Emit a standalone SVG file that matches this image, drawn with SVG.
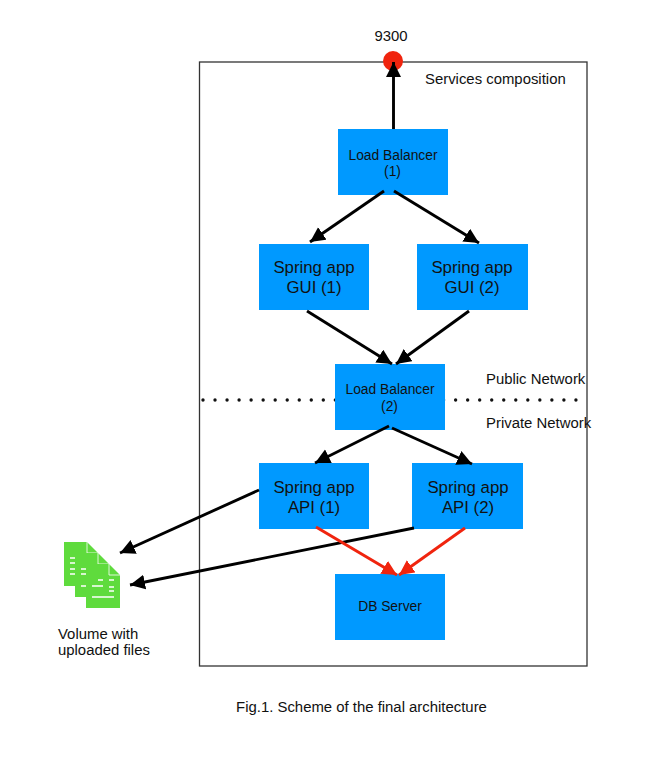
<svg xmlns="http://www.w3.org/2000/svg" width="657" height="772" viewBox="0 0 657 772">
<style>
text{font-family:"Liberation Sans",Arial,sans-serif;fill:#111}
.box{fill:#0099ff}
.t{text-anchor:middle}
.s{font-size:13.800px}
.m{font-size:16.800px}
.l{font-size:14.900px}
.c{fill:none;stroke:#000;stroke-width:2.900}
.r{fill:none;stroke:#f0240e;stroke-width:2.900}
.d{fill:#5fdb3d}
</style>
<defs>
<marker id="ab" markerUnits="userSpaceOnUse" markerWidth="17" markerHeight="16" refX="15" refY="7.500" orient="auto"><path d="M0 0L15 7.500L0 15z" fill="#000"/></marker>
<marker id="ar" markerUnits="userSpaceOnUse" markerWidth="17" markerHeight="16" refX="15" refY="7.500" orient="auto"><path d="M0 0L15 7.500L0 15z" fill="#f0240e"/></marker>
<g id="doc"><path class="d" d="M0 0H23L34 11V44H0z"/><path d="M23 0V11H34" fill="none" stroke="#fff" stroke-width=".8"/></g>
</defs>
<g id="frame"><rect x="199.500" y="62" width="387.500" height="604" fill="none" stroke="#333" stroke-width="1.300"/></g>
<g id="network-divider"><line x1="203" y1="400" x2="577" y2="400" stroke="#111" stroke-width="3.400" stroke-linecap="round" stroke-dasharray="0 12.030"/></g>
<g id="port"><circle cx="393" cy="61" r="10" fill="#f0240e"/><text class="t l" x="391" y="41">9300</text></g>
<g id="lb1"><rect class="box" x="338" y="129" width="110" height="66"/><text class="t s" x="393" y="160">Load Balancer</text><text class="t s" x="392.500" y="176">(1)</text></g>
<g id="gui1"><rect class="box" x="259" y="244" width="110" height="66"/><text class="t m" x="314" y="273">Spring app</text><text class="t m" x="314" y="293">GUI (1)</text></g>
<g id="gui2"><rect class="box" x="417" y="244" width="111" height="66"/><text class="t m" x="472" y="273">Spring app</text><text class="t m" x="472" y="293">GUI (2)</text></g>
<g id="lb2"><rect class="box" x="335" y="364" width="110" height="66"/><text class="t s" x="390" y="394">Load Balancer</text><text class="t s" x="389.500" y="411">(2)</text></g>
<g id="api1"><rect class="box" x="259" y="463" width="110" height="66"/><text class="t m" x="314" y="493">Spring app</text><text class="t m" x="314" y="513">API (1)</text></g>
<g id="api2"><rect class="box" x="412" y="463" width="111" height="66"/><text class="t m" x="468" y="493">Spring app</text><text class="t m" x="468" y="513">API (2)</text></g>
<g id="db"><rect class="box" x="335" y="574" width="110" height="66"/><text class="t s" x="390" y="611">DB Server</text></g>
<g id="volume">
<use href="#doc" x="64" y="542"/><use href="#doc" x="75" y="553"/><use href="#doc" x="86" y="564"/>
<path d="M70 558h5M70 563h5M70 569h5M70 574h5M81 569h5M81 574h5M81 586h5M92 586h11M98 580h5M109 580h5M109 587h5M109 591h5M92 597h22" stroke="#fff" stroke-width="1.300"/>
<text class="l" x="58" y="639">Volume with</text><text class="l" x="58" y="655">uploaded files</text>
</g>
<g id="labels">
<text class="l" x="425" y="84">Services composition</text>
<text class="l" x="486" y="384">Public Network</text>
<text class="l" x="486" y="428">Private Network</text>
<text class="l t" x="361.500" y="712">Fig.1. Scheme of the final architecture</text>
</g>
<g id="connectors">
<path class="c" marker-end="url(#ab)" d="M393.500 129V62"/>
<path class="c" marker-end="url(#ab)" d="M384 191L310 242"/>
<path class="c" marker-end="url(#ab)" d="M394 191L479 243"/>
<path class="c" marker-end="url(#ab)" d="M307 311L392 364"/>
<path class="c" marker-end="url(#ab)" d="M469 311L396 364"/>
<path class="c" marker-end="url(#ab)" d="M389 426L315 463"/>
<path class="c" marker-end="url(#ab)" d="M392 428L472 464"/>
<path class="c" marker-end="url(#ab)" d="M259 490L120 553"/>
<path class="c" marker-end="url(#ab)" d="M414 528L130 585"/>
<path class="r" marker-end="url(#ar)" d="M316 527L397 575"/>
<path class="r" marker-end="url(#ar)" d="M465 528L399 575"/>
</g>
</svg>
